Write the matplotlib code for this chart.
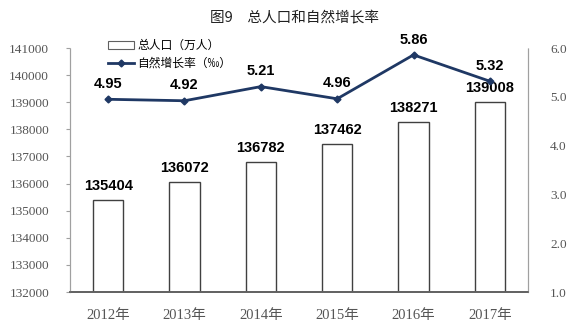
import matplotlib
matplotlib.use("Agg")
import matplotlib.pyplot as plt
from matplotlib.patches import Patch
from matplotlib.lines import Line2D

years = ["2012年", "2013年", "2014年", "2015年", "2016年", "2017年"]
population = [135404, 136072, 136782, 137462, 138271, 139008]   # 万人
growth_rate = [4.95, 4.92, 5.21, 4.96, 5.86, 5.32]               # ‰

left_ticks = list(range(132000, 141001, 1000))
right_ticks = [1.0, 2.0, 3.0, 4.0, 5.0, 6.0]

CJK = ["Noto Sans CJK SC", "DejaVu Sans"]
NUM = ["Liberation Serif", "Noto Sans CJK SC"]
LINE_COLOR = "#1f3864"
TICK_COLOR = "#555555"

plt.rcParams["font.family"] = CJK

fig = plt.figure(figsize=(5.76, 3.31), dpi=100)
ax = fig.add_axes([0.1215, 0.1178, 0.7952, 0.737])
ax2 = ax.twinx()

x = list(range(len(years)))
ax.bar(x, population, width=0.4, bottom=0, color="white",
       edgecolor="#404040", linewidth=1.0, zorder=2)
ax.set_ylim(132000, 141000)
ax.set_xlim(-0.5, len(years) - 0.5)
ax.set_yticks(left_ticks)
ax.set_yticklabels([str(v) for v in left_ticks], family=NUM, fontsize=9.5,
                   color=TICK_COLOR)
ax.set_xticks(x)
ax.set_xticklabels(years, family=NUM, fontsize=10.5, color=TICK_COLOR)

for xi, v in zip(x, population):
    ax.annotate(str(v), (xi, v), xytext=(0, 5), textcoords="offset points",
                ha="center", va="bottom", fontsize=10.5, fontweight="bold",
                family="Liberation Sans", color="black")

ax2.plot(x, growth_rate, color=LINE_COLOR, linewidth=2, marker="D",
         markersize=3.5, zorder=3)
ax2.set_ylim(1.0, 6.0)
ax2.set_yticks(right_ticks)
ax2.set_yticklabels([f"{v:.1f}" for v in right_ticks], family=NUM,
                    fontsize=9.5, color=TICK_COLOR)

for xi, v in zip(x, growth_rate):
    ax2.annotate(f"{v:.2f}", (xi, v), xytext=(0, 6), textcoords="offset points",
                 ha="center", va="bottom", fontsize=10.5, fontweight="bold",
                 family="Liberation Sans", color="black")

# axis styling: dotted side spines, solid base line
for a in (ax, ax2):
    a.spines["top"].set_visible(False)
    a.spines["left"].set_linestyle((0, (1, 1)))
    a.spines["left"].set_color("#a0a0a0")
    a.spines["right"].set_linestyle((0, (1, 1)))
    a.spines["right"].set_color("#a0a0a0")
    a.spines["bottom"].set_color("#606060")
    a.spines["bottom"].set_linewidth(1.2)
ax.tick_params(axis="y", direction="out", length=3, color="#a0a0a0", pad=12)
ax2.tick_params(axis="y", direction="in", length=0, pad=16)
ax.tick_params(axis="x", length=0, pad=12)

handles = [Patch(facecolor="white", edgecolor="#606060", linewidth=0.8),
           Line2D([], [], color=LINE_COLOR, linewidth=2, marker="D",
                  markersize=3.5)]
ax2.legend(handles, ["总人口（万人）", "自然增长率（‰）"], loc="upper left",
           bbox_to_anchor=(0.07, 1.06), frameon=False, fontsize=8.5,
           handlelength=2.2, handleheight=0.6, borderpad=0, labelspacing=0.35,
           handletextpad=0.3)

fig.text(0.512, 0.947, "图9　总人口和自然增长率", ha="center", va="center",
         fontsize=10.5, family=CJK, color="#202020")

fig.savefig("out.png", dpi=100)
